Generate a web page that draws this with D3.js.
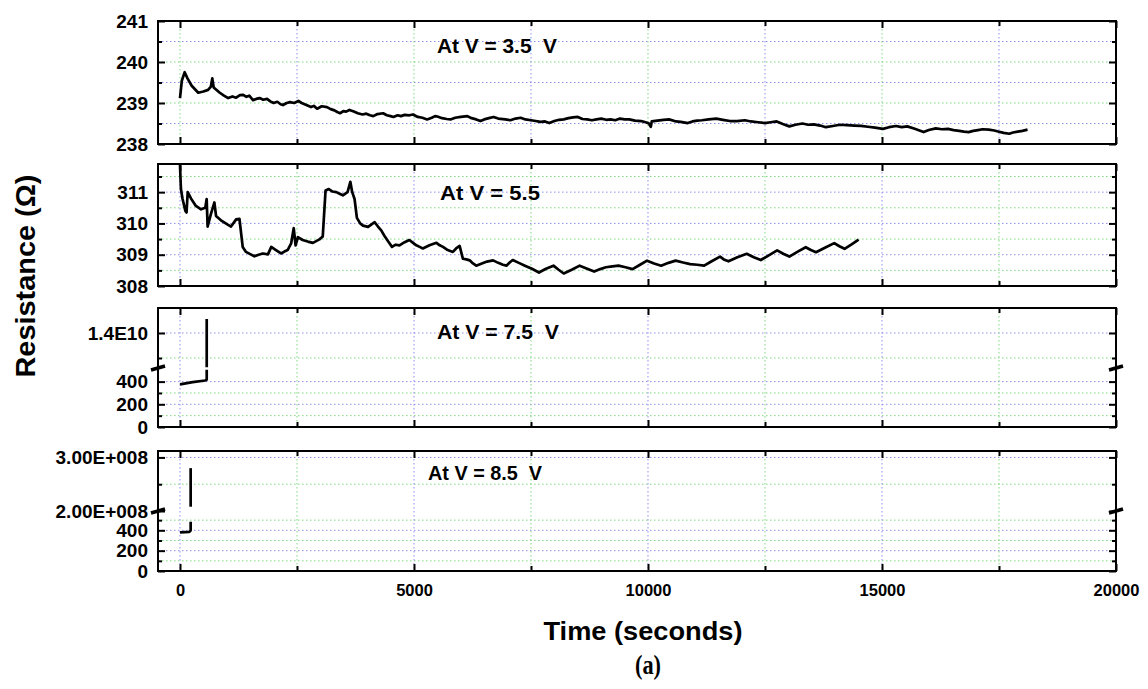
<!DOCTYPE html>
<html>
<head>
<meta charset="utf-8">
<script src="https://cdn.jsdelivr.net/npm/d3@7"></script>
<style>
body { margin: 0; background: #fff; }
text { font-family: "Liberation Sans", Arial, sans-serif; font-weight: bold; fill: #000; }
.tick line { stroke: #000; stroke-width: 2; }
.domain { display: none; }
</style>
</head>
<body>
<div id="chart"></div>
<script>
// x axis ticks (seconds)
var xMajor = [0, 5000, 10000, 15000, 20000];
var xMinor = [2500, 7500, 12500, 17500];

// panel 1: V = 3.5 V  [time, ohm]
var p1 = [
  [0, 239.12], [40, 239.55], [100, 239.75], [160, 239.6], [250, 239.42], [390, 239.25],
  [500, 239.28], [600, 239.32], [660, 239.4], [690, 239.6], [720, 239.38], [850, 239.25],
  [940, 239.18], [1030, 239.12], [1120, 239.16], [1200, 239.13], [1280, 239.19], [1350, 239.2],
  [1420, 239.15], [1480, 239.18], [1560, 239.07], [1630, 239.1], [1700, 239.12], [1780, 239.08],
  [1860, 239.1], [1930, 239.04], [2000, 239.0], [2080, 239.03], [2150, 238.97], [2200, 238.95],
  [2280, 239.0], [2350, 239.02], [2440, 239.0], [2530, 239.05], [2600, 239.0], [2700, 238.95],
  [2800, 238.9], [2860, 238.93], [2930, 238.86], [3030, 238.92], [3140, 238.9], [3220, 238.85],
  [3300, 238.82], [3360, 238.78], [3420, 238.75], [3490, 238.8], [3550, 238.79], [3620, 238.83],
  [3700, 238.8], [3800, 238.75], [3900, 238.72], [3980, 238.74], [4060, 238.7], [4130, 238.68],
  [4220, 238.73], [4340, 238.75], [4420, 238.7], [4500, 238.68], [4560, 238.66], [4650, 238.7],
  [4720, 238.68], [4800, 238.71], [4900, 238.7], [4980, 238.72], [5080, 238.66], [5180, 238.64],
  [5280, 238.6], [5380, 238.64], [5450, 238.68], [5500, 238.67], [5600, 238.63], [5700, 238.61],
  [5780, 238.6], [5880, 238.64], [6000, 238.66], [6140, 238.68], [6230, 238.63], [6330, 238.6],
  [6420, 238.56], [6500, 238.6], [6600, 238.63], [6700, 238.66], [6800, 238.62], [6950, 238.6],
  [7060, 238.58], [7170, 238.62], [7280, 238.64], [7380, 238.6], [7500, 238.58], [7600, 238.56],
  [7700, 238.54], [7800, 238.55], [7890, 238.51], [8000, 238.56], [8100, 238.59], [8200, 238.6],
  [8300, 238.63], [8400, 238.65], [8500, 238.66], [8600, 238.61], [8700, 238.6], [8800, 238.58],
  [8900, 238.6], [9000, 238.62], [9110, 238.59], [9200, 238.6], [9300, 238.58], [9400, 238.62],
  [9500, 238.6], [9600, 238.6], [9720, 238.57], [9850, 238.56], [9950, 238.53], [10020, 238.5],
  [10060, 238.42], [10080, 238.55], [10200, 238.57], [10330, 238.59], [10450, 238.6], [10600, 238.55],
  [10700, 238.54], [10850, 238.51], [10950, 238.55], [11050, 238.57], [11150, 238.58], [11300, 238.6],
  [11460, 238.62], [11600, 238.59], [11750, 238.56], [11900, 238.56], [12070, 238.58], [12200, 238.55],
  [12350, 238.53], [12500, 238.51], [12620, 238.53], [12750, 238.55], [12880, 238.49], [13020, 238.43],
  [13150, 238.47], [13300, 238.5], [13420, 238.47], [13540, 238.48], [13680, 238.45], [13800, 238.41],
  [13950, 238.44], [14100, 238.47], [14250, 238.46], [14410, 238.45], [14550, 238.44], [14700, 238.42],
  [14850, 238.4], [15020, 238.37], [15150, 238.41], [15300, 238.44], [15420, 238.41], [15540, 238.43],
  [15700, 238.37], [15800, 238.33], [15890, 238.29], [16000, 238.34], [16150, 238.38], [16280, 238.36],
  [16410, 238.37], [16530, 238.34], [16650, 238.32], [16750, 238.3], [16850, 238.29], [16950, 238.32],
  [17050, 238.34], [17150, 238.36], [17280, 238.35], [17400, 238.33], [17500, 238.3], [17600, 238.27],
  [17720, 238.25], [17800, 238.28], [17900, 238.3], [18000, 238.32], [18110, 238.35]
];

// panel 2: V = 5.5
var p2 = [
  [0, 311.87], [20, 311.1], [55, 310.78], [115, 310.4], [140, 310.35], [165, 311.0],
  [235, 310.8], [340, 310.56], [450, 310.45], [540, 310.5], [570, 310.78], [590, 309.9],
  [660, 310.3], [735, 310.67], [770, 310.24], [875, 310.1], [1020, 309.96], [1090, 309.9],
  [1200, 310.13], [1270, 310.15], [1340, 309.25], [1410, 309.09], [1500, 309.02], [1590, 308.95],
  [1680, 309.0], [1770, 309.04], [1880, 309.01], [1950, 309.25], [2050, 309.15], [2160, 309.04],
  [2230, 309.1], [2300, 309.15], [2375, 309.36], [2430, 309.85], [2470, 309.3], [2520, 309.56],
  [2620, 309.47], [2730, 309.42], [2840, 309.38], [2980, 309.49], [3050, 309.58], [3110, 311.05],
  [3180, 311.1], [3260, 311.02], [3340, 311.0], [3410, 310.95], [3480, 310.9], [3580, 311.0],
  [3640, 311.33], [3680, 311.0], [3730, 310.78], [3780, 310.18], [3850, 310.0], [3910, 309.93],
  [4020, 309.89], [4100, 309.98], [4160, 310.04], [4230, 309.9], [4300, 309.78], [4370, 309.6],
  [4450, 309.42], [4530, 309.25], [4610, 309.32], [4690, 309.3], [4800, 309.4], [4900, 309.47],
  [4980, 309.38], [5050, 309.3], [5120, 309.25], [5190, 309.2], [5330, 309.3], [5480, 309.38],
  [5550, 309.3], [5620, 309.25], [5720, 309.15], [5830, 309.09], [5900, 309.2], [5975, 309.28],
  [6045, 308.87], [6120, 308.85], [6190, 308.82], [6260, 308.72], [6330, 308.65], [6450, 308.72],
  [6560, 308.78], [6690, 308.82], [6800, 308.74], [6900, 308.68], [6975, 308.65], [7050, 308.76],
  [7110, 308.83], [7240, 308.74], [7370, 308.65], [7520, 308.55], [7670, 308.43], [7820, 308.55],
  [7980, 308.65], [8090, 308.52], [8200, 308.4], [8370, 308.52], [8540, 308.65], [8700, 308.55],
  [8850, 308.46], [8980, 308.54], [9100, 308.6], [9240, 308.63], [9370, 308.65], [9520, 308.6],
  [9670, 308.54], [9830, 308.68], [9980, 308.81], [10130, 308.72], [10280, 308.65], [10440, 308.74],
  [10590, 308.81], [10750, 308.75], [10900, 308.7], [11050, 308.68], [11200, 308.65], [11370, 308.8],
  [11540, 308.94], [11620, 308.85], [11720, 308.79], [11910, 308.92], [12110, 309.03], [12260, 308.92],
  [12410, 308.83], [12580, 308.98], [12760, 309.14], [12890, 309.03], [13020, 308.94], [13200, 309.1],
  [13370, 309.24], [13480, 309.15], [13590, 309.08], [13780, 309.22], [13980, 309.37], [14090, 309.27],
  [14200, 309.19], [14350, 309.33], [14500, 309.48]
];

// panel 3: V = 7.5 V (broken axis: low part / high part)
var p3Low = [[0, 376], [270, 395], [540, 410], [571, 418], [571, 505]];
var p3High = [[571, 1.263e10], [571, 1.456e10]];

// panel 4: V = 8.5 V
var p4Low = [[0, 380], [200, 385], [228, 400], [228, 484]];
var p4High = [[228, 2.08e8], [228, 2.8e8]];

// y tick values and labels
var p1Major = [238, 239, 240, 241], p1Minor = [238.5, 239.5, 240.5];
var p2Major = [308, 309, 310, 311], p2Minor = [308.5, 309.5, 310.5, 311.5];
var p3LowMajor = [0, 200, 400], p3LowMinor = [100, 300];
var p3HighMajor = [1.4e10], p3HighMinor = [1.3e10], p3HighLabels = ["1.4E10"];
var p4LowMajor = [0, 200, 400], p4LowMinor = [100, 300, 500];
var p4HighMajor = [2e8, 3e8], p4HighMinor = [2.5e8], p4HighLabels = ["2.00E+008", "3.00E+008"];

var titles = ["At V = 3.5\u00a0\u00a0V", "At V = 5.5", "At V = 7.5\u00a0\u00a0V", "At V = 8.5\u00a0\u00a0V"];

var GREEN = "#7fd87f", BLUE = "#8f8ff0";
var left = 158, right = 1116;

var svg = d3.select("#chart").append("svg")
    .attr("width", 1148)
    .attr("height", 689);

var x = d3.scaleLinear().domain([-470, 20000]).range([left, right]);

var fmtInt = d3.format("d");

var panels = [
  {top: 21, bottom: 144, majorCol: GREEN, minorCol: BLUE,
   segs: [{scale: d3.scaleLinear().domain([238, 241]).range([144, 21]), major: p1Major, minor: p1Minor, fmt: fmtInt}],
   series: [{data: p1, seg: 0}], title: {x: 437, y: 53, w: 120}},
  {top: 164, bottom: 286, majorCol: BLUE, minorCol: GREEN,
   segs: [{scale: d3.scaleLinear().domain([308, 311.9]).range([286, 164]), major: p2Major, minor: p2Minor, fmt: fmtInt}],
   series: [{data: p2, seg: 0}], title: {x: 440, y: 200, w: 100}},
  {top: 308, bottom: 427, majorCol: BLUE, minorCol: GREEN, brk: 368,
   segs: [{scale: d3.scaleLinear().domain([0, 520]).range([427, 368]), major: p3LowMajor, minor: p3LowMinor, fmt: fmtInt},
          {scale: d3.scaleLinear().domain([1.26e10, 1.5e10]).range([368, 308]), major: p3HighMajor, minor: p3HighMinor,
           fmt: function(d, i) { return p3HighLabels[i]; }}],
   series: [{data: p3Low, seg: 0}, {data: p3High, seg: 1}], title: {x: 437, y: 339, w: 122}},
  {top: 451, bottom: 571, majorCol: BLUE, minorCol: GREEN, brk: 511,
   segs: [{scale: d3.scaleLinear().domain([0, 590]).range([571, 511]), major: p4LowMajor, minor: p4LowMinor, fmt: fmtInt},
          {scale: d3.scaleLinear().domain([2e8, 3.12e8]).range([511, 451]), major: p4HighMajor, minor: p4HighMinor,
           fmt: function(d, i) { return p4HighLabels[i]; }}],
   series: [{data: p4Low, seg: 0}, {data: p4High, seg: 1}], title: {x: 428, y: 480, w: 114}}
];

panels.forEach(function(p, pi) {
  var g = svg.append("g");

  // dotted grid
  function inside(yy) {
    return yy > p.top + 1 && yy < p.bottom - 1 && !(p.brk && Math.abs(yy - p.brk) < 2);
  }
  function hgrid(vals, sc, col) {
    g.selectAll(null).data(vals.filter(function(v) { return inside(sc(v)); }))
      .enter().append("line")
      .attr("x1", left).attr("x2", right)
      .attr("y1", function(v) { return sc(v); }).attr("y2", function(v) { return sc(v); })
      .attr("stroke", col).attr("stroke-width", 1).attr("stroke-dasharray", "1.5,2.5");
  }
  p.segs.forEach(function(s) {
    hgrid(s.minor, s.scale, p.minorCol);
    hgrid(s.major, s.scale, p.majorCol);
  });
  function vgrid(vals, col) {
    g.selectAll(null).data(vals.filter(function(v) { return x(v) < right - 1; }))
      .enter().append("line")
      .attr("x1", function(v) { return x(v); }).attr("x2", function(v) { return x(v); })
      .attr("y1", p.top).attr("y2", p.bottom)
      .attr("stroke", col).attr("stroke-width", 1).attr("stroke-dasharray", "1.5,2.5");
  }
  vgrid(xMinor, p.minorCol);
  vgrid(xMajor, p.majorCol);

  // data lines
  p.series.forEach(function(s) {
    var sc = p.segs[s.seg].scale;
    var line = d3.line()
      .x(function(d) { return x(d[0]); })
      .y(function(d) { return sc(d[1]); });
    g.append("path")
      .datum(s.data)
      .attr("d", line)
      .attr("fill", "none")
      .attr("stroke", "#000")
      .attr("stroke-width", 2.7)
      .attr("stroke-linejoin", "round");
  });

  // y axes: ticks inside, labels outside left
  p.segs.forEach(function(s) {
    g.append("g").attr("transform", "translate(" + left + ",0)")
      .call(d3.axisLeft(s.scale).tickValues(s.major).tickSize(-7).tickPadding(10).tickFormat(s.fmt))
      .call(function(a) { a.selectAll("text").style("font-size", "19px"); });
    g.append("g").attr("transform", "translate(" + left + ",0)")
      .call(d3.axisLeft(s.scale).tickValues(s.minor).tickSize(-4).tickFormat(""));
    g.append("g").attr("transform", "translate(" + right + ",0)")
      .call(d3.axisRight(s.scale).tickValues(s.major).tickSize(-7).tickFormat(""));
    g.append("g").attr("transform", "translate(" + right + ",0)")
      .call(d3.axisRight(s.scale).tickValues(s.minor).tickSize(-4).tickFormat(""));
  });

  // x ticks on top and bottom of each frame
  var last = pi === panels.length - 1;
  g.append("g").attr("transform", "translate(0," + p.bottom + ")")
    .call(d3.axisBottom(x).tickValues(xMajor).tickSize(-7).tickPadding(13)
      .tickFormat(last ? fmtInt : ""))
    .call(function(a) { a.selectAll("text").style("font-size", "16.5px"); });
  g.append("g").attr("transform", "translate(0," + p.bottom + ")")
    .call(d3.axisBottom(x).tickValues(xMinor).tickSize(-5).tickFormat(""));
  g.append("g").attr("transform", "translate(0," + p.top + ")")
    .call(d3.axisTop(x).tickValues(xMajor).tickSize(-7).tickFormat(""));
  g.append("g").attr("transform", "translate(0," + p.top + ")")
    .call(d3.axisTop(x).tickValues(xMinor).tickSize(-5).tickFormat(""));

  // frame
  g.append("rect")
    .attr("x", left).attr("y", p.top)
    .attr("width", right - left).attr("height", p.bottom - p.top)
    .attr("fill", "none").attr("stroke", "#000").attr("stroke-width", 2);

  // axis break marks
  if (p.brk) {
    [left, right].forEach(function(bx) {
      g.append("line")
        .attr("x1", bx - 7).attr("y1", p.brk + 2)
        .attr("x2", bx + 7).attr("y2", p.brk - 2)
        .attr("stroke", "#000").attr("stroke-width", 3.5);
    });
  }

  // panel annotation
  g.append("text")
    .attr("x", p.title.x).attr("y", p.title.y)
    .attr("textLength", p.title.w).attr("lengthAdjust", "spacingAndGlyphs")
    .style("font-size", "20px")
    .text(titles[pi]);
});

// axis titles
svg.append("text")
  .attr("transform", "translate(35,276) rotate(-90)")
  .attr("text-anchor", "middle")
  .attr("textLength", 203).attr("lengthAdjust", "spacingAndGlyphs")
  .style("font-size", "27px")
  .text("Resistance (\u03A9)");

svg.append("text")
  .attr("x", 643).attr("y", 640)
  .attr("text-anchor", "middle")
  .attr("textLength", 199).attr("lengthAdjust", "spacingAndGlyphs")
  .style("font-size", "25px")
  .text("Time (seconds)");

svg.append("text")
  .attr("x", 648).attr("y", 674)
  .attr("text-anchor", "middle")
  .attr("textLength", 26).attr("lengthAdjust", "spacingAndGlyphs")
  .style("font-family", "'Liberation Serif', 'DejaVu Serif', serif")
  .style("font-size", "27px")
  .text("(a)");
</script>
</body>
</html>
